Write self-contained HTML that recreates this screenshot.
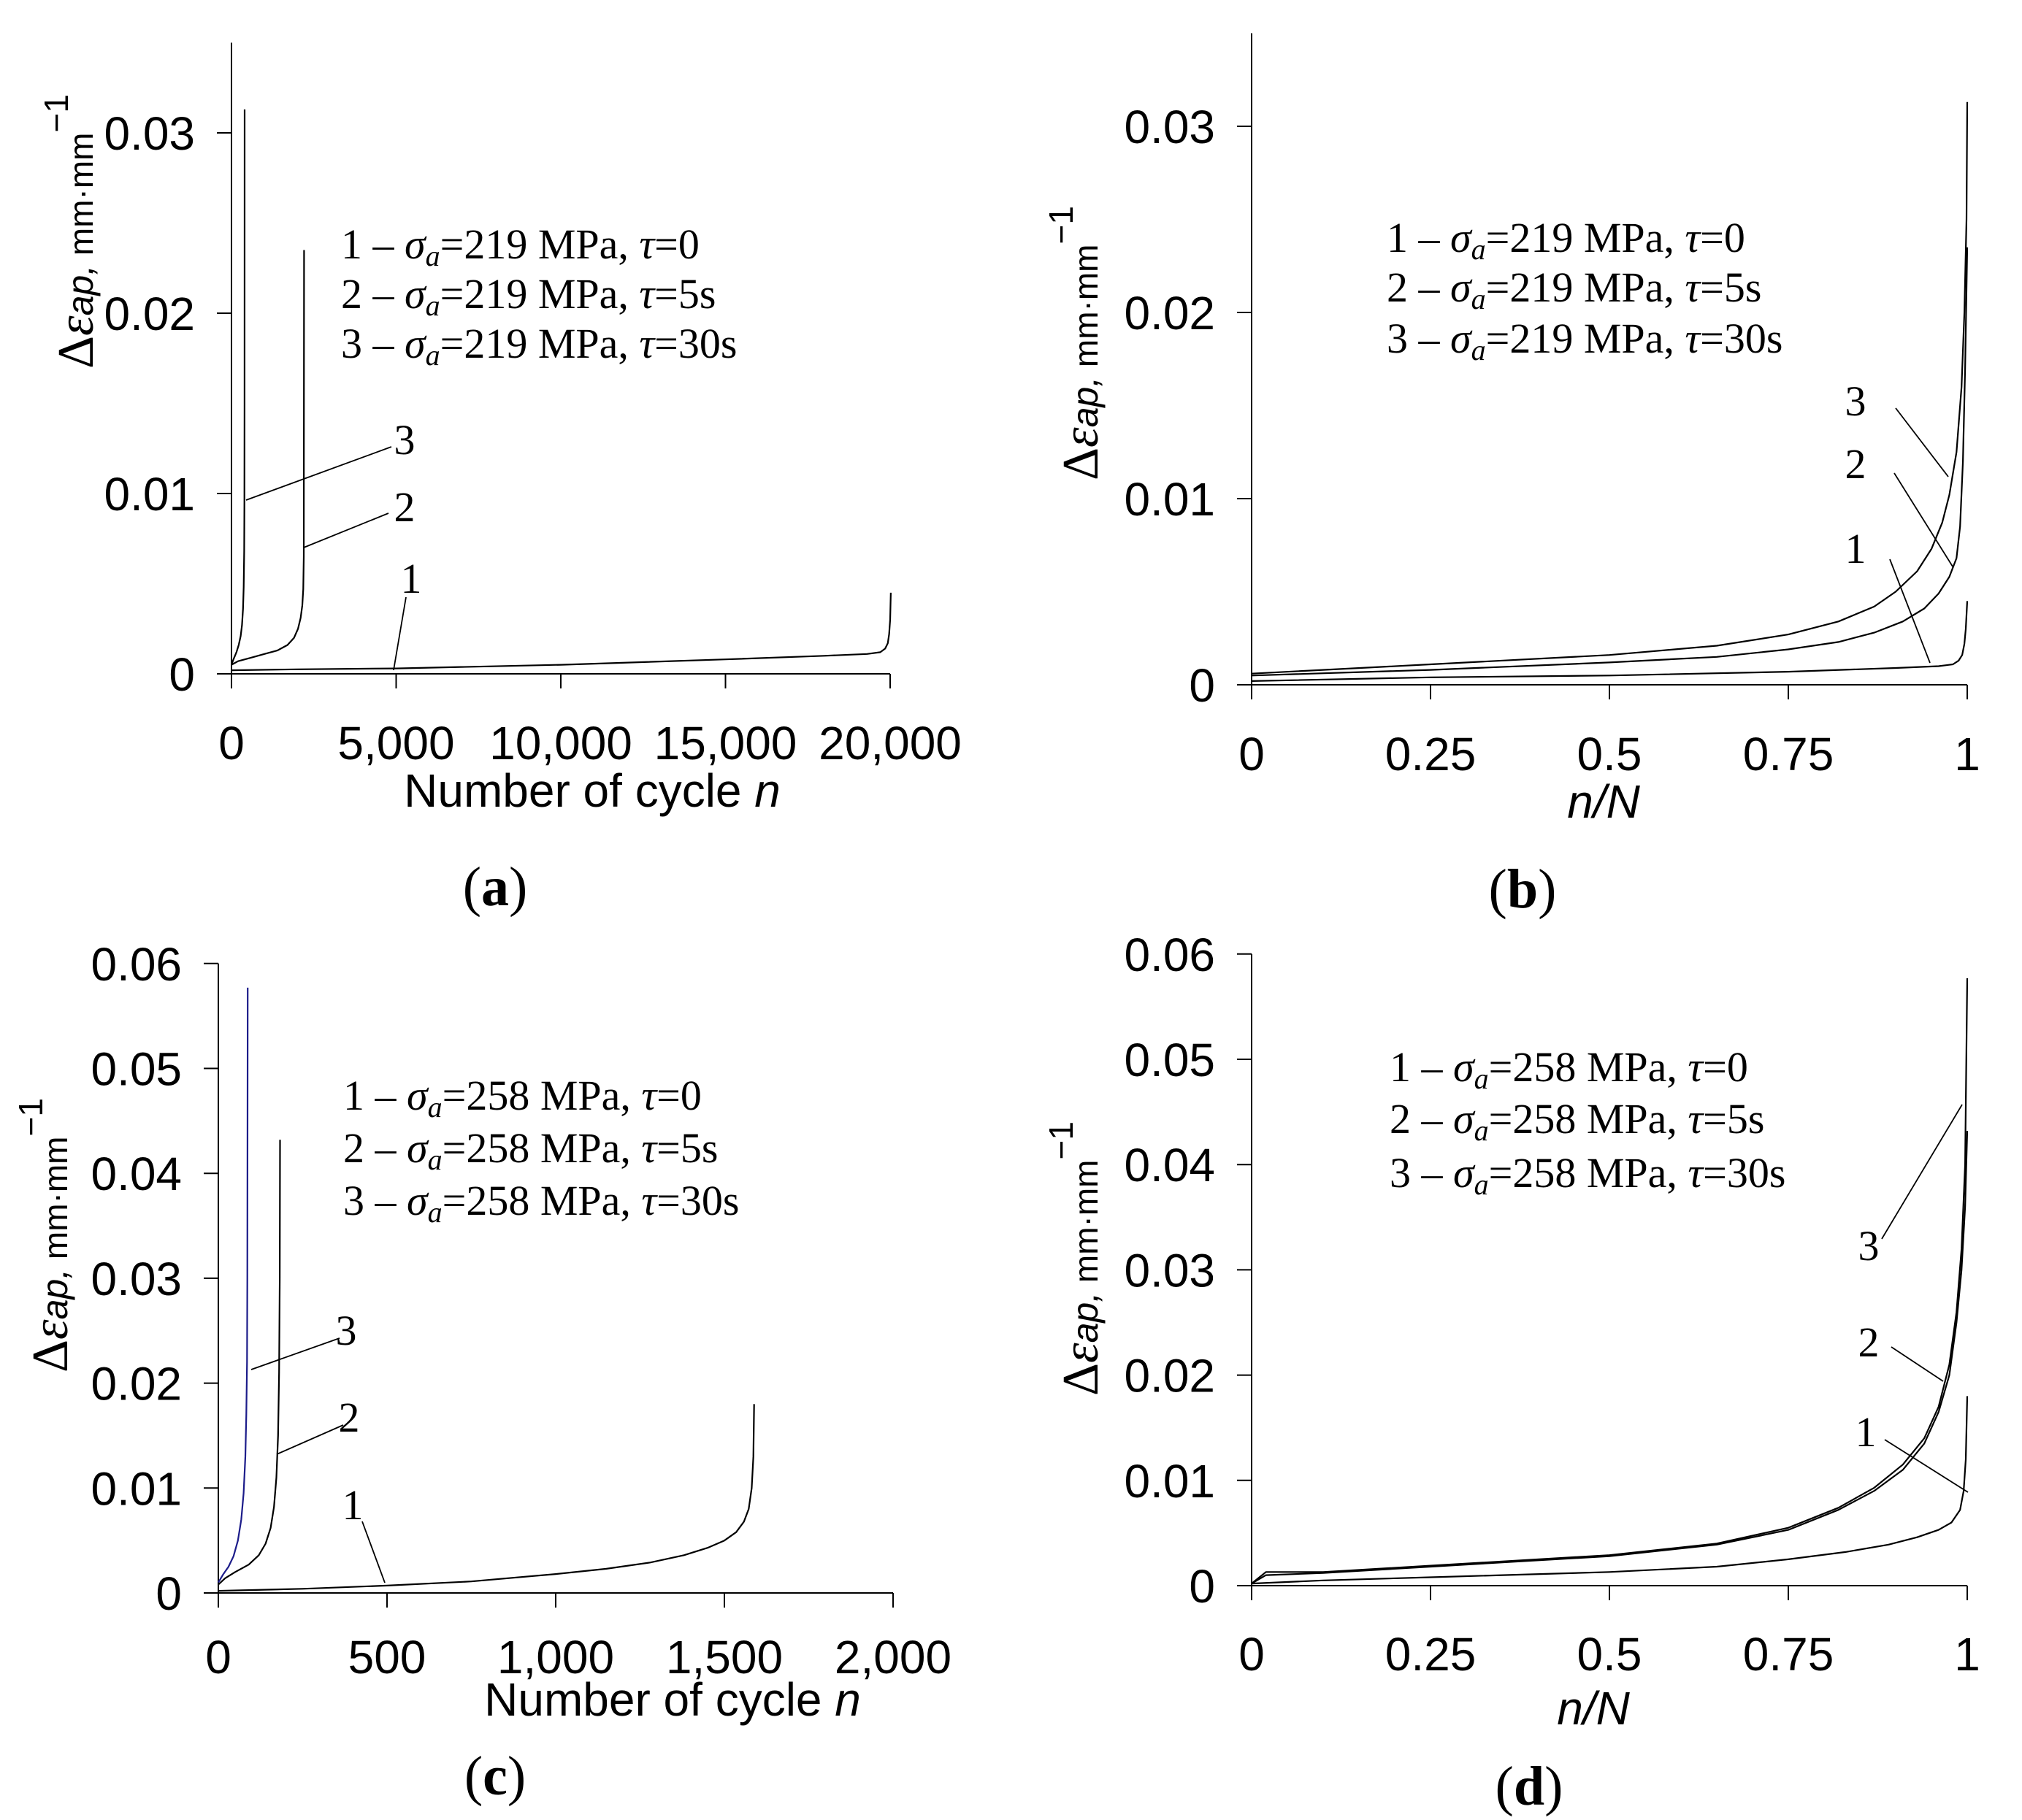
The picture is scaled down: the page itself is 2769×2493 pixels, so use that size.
<!DOCTYPE html>
<html><head><meta charset="utf-8"><style>
html,body{margin:0;padding:0;background:#fff;}
svg{display:block;}
.tk{font-family:"Liberation Sans",sans-serif;font-size:64px;fill:#000;}
.lg{font-family:"Liberation Serif",serif;font-size:58px;fill:#000;}
.cap{font-family:"Liberation Serif",serif;font-size:76px;font-weight:bold;fill:#000;}
</style></head><body>
<svg id="fig" width="2769" height="2493" viewBox="0 0 2769 2493" xmlns="http://www.w3.org/2000/svg"></svg>
<script>
// ---- Panel (a) data: cycles vs strain ----
const aXTicks = [0, 5000, 10000, 15000, 20000];
const aXTickLabels = ["0", "5,000", "10,000", "15,000", "20,000"];
const aYTicks = [0, 0.01, 0.02, 0.03];
const aYTickLabels = ["0", "0.01", "0.02", "0.03"];
const aS1x = [0, 2000, 5000, 10000, 15000, 18000, 19300, 19700, 19850, 19930, 19970, 20000, 20020];
const aS1y = [0.0002, 0.00025, 0.0003, 0.0005, 0.0008, 0.001, 0.0011, 0.0012, 0.0014, 0.0017, 0.0022, 0.003, 0.0045];
const aS2x = [0, 200, 600, 1000, 1400, 1700, 1900, 2020, 2100, 2150, 2180, 2195, 2200, 2205];
const aS2y = [0.0005, 0.0007, 0.0009, 0.0011, 0.0013, 0.0016, 0.002, 0.0025, 0.0031, 0.0038, 0.0047, 0.0065, 0.015, 0.0235];
const aS3x = [0, 60, 150, 220, 280, 320, 350, 370, 385, 392, 397, 400];
const aS3y = [0.0005, 0.0008, 0.0012, 0.0016, 0.0021, 0.0027, 0.0036, 0.0048, 0.0068, 0.0095, 0.015, 0.0313];

// ---- Panel (b) data: n/N vs strain ----
const bXTicks = [0, 0.25, 0.5, 0.75, 1];
const bXTickLabels = ["0", "0.25", "0.5", "0.75", "1"];
const bYTicks = [0, 0.01, 0.02, 0.03];
const bYTickLabels = ["0", "0.01", "0.02", "0.03"];
const bS1x = [0, 0.25, 0.5, 0.75, 0.9, 0.96, 0.98, 0.988, 0.993, 0.996, 0.998, 1];
const bS1y = [0.0002, 0.0004, 0.0005, 0.0007, 0.0009, 0.001, 0.0011, 0.0013, 0.0016, 0.0022, 0.003, 0.0045];
const bS2x = [0, 0.25, 0.5, 0.65, 0.75, 0.82, 0.87, 0.91, 0.94, 0.96, 0.975, 0.985, 0.99, 0.994, 0.997, 1];
const bS2y = [0.0005, 0.0008, 0.0012, 0.0015, 0.0019, 0.0023, 0.0028, 0.0034, 0.0041, 0.0049, 0.0058, 0.0068, 0.0085, 0.012, 0.017, 0.0235];
const bS3x = [0, 0.25, 0.5, 0.65, 0.75, 0.82, 0.87, 0.9, 0.93, 0.95, 0.965, 0.975, 0.985, 0.992, 0.996, 0.999, 1];
const bS3y = [0.0006, 0.0011, 0.0016, 0.0021, 0.0027, 0.0034, 0.0042, 0.005, 0.0061, 0.0073, 0.0087, 0.0102, 0.0125, 0.016, 0.02, 0.025, 0.0313];

// ---- Panel (c) data: cycles vs strain ----
const cXTicks = [0, 500, 1000, 1500, 2000];
const cXTickLabels = ["0", "500", "1,000", "1,500", "2,000"];
const cYTicks = [0, 0.01, 0.02, 0.03, 0.04, 0.05, 0.06];
const cYTickLabels = ["0", "0.01", "0.02", "0.03", "0.04", "0.05", "0.06"];
const cS1x = [0, 250, 500, 750, 1000, 1150, 1280, 1380, 1450, 1500, 1535, 1558, 1572, 1581, 1586, 1588];
const cS1y = [0.0002, 0.0004, 0.0007, 0.0011, 0.0018, 0.0023, 0.0029, 0.0036, 0.0043, 0.005, 0.0058, 0.0068, 0.008, 0.01, 0.013, 0.018];
const cS2x = [0, 20, 50, 90, 120, 140, 155, 165, 172, 177, 180, 182, 183];
const cS2y = [0.0008, 0.0014, 0.002, 0.0027, 0.0036, 0.0047, 0.0062, 0.0082, 0.011, 0.015, 0.021, 0.03, 0.0432];
const cS3x = [0, 15, 30, 45, 58, 68, 75, 80, 83, 85, 86, 87];
const cS3y = [0.001, 0.0018, 0.0025, 0.0035, 0.005, 0.007, 0.0095, 0.013, 0.017, 0.022, 0.03, 0.0577];

// ---- Panel (d) data: n/N vs strain ----
const dXTicks = [0, 0.25, 0.5, 0.75, 1];
const dXTickLabels = ["0", "0.25", "0.5", "0.75", "1"];
const dYTicks = [0, 0.01, 0.02, 0.03, 0.04, 0.05, 0.06];
const dYTickLabels = ["0", "0.01", "0.02", "0.03", "0.04", "0.05", "0.06"];
const dS1x = [0, 0.1, 0.25, 0.5, 0.65, 0.75, 0.83, 0.89, 0.93, 0.96, 0.978, 0.99, 0.995, 0.998, 1];
const dS1y = [0.0002, 0.0005, 0.0008, 0.0013, 0.0018, 0.0025, 0.0032, 0.0039, 0.0046, 0.0053, 0.006, 0.0072, 0.009, 0.012, 0.018];
const dS2x = [0, 0.02, 0.1, 0.25, 0.5, 0.65, 0.75, 0.82, 0.87, 0.91, 0.94, 0.96, 0.975, 0.985, 0.992, 0.997, 1];
const dS2y = [0.0002, 0.001, 0.0012, 0.0018, 0.0028, 0.0039, 0.0053, 0.0072, 0.009, 0.011, 0.0135, 0.0165, 0.02, 0.025, 0.03, 0.036, 0.0432];
const dS3x = [0, 0.02, 0.1, 0.25, 0.5, 0.65, 0.75, 0.82, 0.87, 0.91, 0.94, 0.96, 0.975, 0.985, 0.992, 0.997, 1];
const dS3y = [0.0002, 0.0013, 0.0013, 0.0019, 0.0029, 0.004, 0.0055, 0.0074, 0.0093, 0.0115, 0.014, 0.017, 0.021, 0.026, 0.032, 0.04, 0.0577];

const NS = "http://www.w3.org/2000/svg";
const svg = document.getElementById('fig');
function mk(tag, attrs, parent) {
  const e = document.createElementNS(NS, tag);
  for (const k in attrs) e.setAttribute(k, attrs[k]);
  (parent || svg).appendChild(e);
  return e;
}

const panels = [
  {id:'a', x0:317, x1:1219, xmax:20000, y0:923, ymax:0.035, yPer:24700, xt:aXTicks, xl:aXTickLabels, yt:aYTicks, yl:aYTickLabels,
   series:[[aS1x,aS1y,'#000'],[aS2x,aS2y,'#000'],[aS3x,aS3y,'#000']],
   tickLabelY:1040, xTitle:'cycle', xTitleX:811, xTitleY:1105, cap:'a', capX:678, capY:1240,
   yTitleX:127, yTitleY:505, legX:467, legY:[354,422,490], sig:'219',
   labels:[['3',554,622],['2',554,714],['1',563,812]],
   leaders:[[536,612,337,685],[532,703,416,750],[556,818,539,918]]},
  {id:'b', x0:1714, x1:2694, xmax:1, y0:938, ymax:0.035, yPer:25500, xt:bXTicks, xl:bXTickLabels, yt:bYTicks, yl:bYTickLabels,
   series:[[bS1x,bS1y,'#000'],[bS2x,bS2y,'#000'],[bS3x,bS3y,'#000']],
   tickLabelY:1055, xTitle:'nN', xTitleX:2196, xTitleY:1120, cap:'b', capX:2085, capY:1243,
   yTitleX:1503, yTitleY:658, legX:1899, legY:[345,413,483], sig:'219',
   labels:[['3',2541,569],['2',2541,655],['1',2541,771]],
   leaders:[[2596,559,2668,653],[2594,648,2674,776],[2588,766,2643,908]]},
  {id:'c', x0:299, x1:1223, xmax:2000, y0:2182, ymax:0.06, yPer:14370, xt:cXTicks, xl:cXTickLabels, yt:cYTicks, yl:cYTickLabels,
   series:[[cS1x,cS1y,'#000'],[cS2x,cS2y,'#000'],[cS3x,cS3y,'#1c1c8a']],
   tickLabelY:2292, xTitle:'cycle', xTitleX:921, xTitleY:2350, cap:'c', capX:678, capY:2458,
   yTitleX:92, yTitleY:1880, legX:470, legY:[1520,1592,1664], sig:'258',
   labels:[['3',474,1842],['2',478,1961],['1',483,2081]],
   leaders:[[465,1833,344,1876],[470,1952,379,1992],[496,2084,527,2168]]},
  {id:'d', x0:1714, x1:2694, xmax:1, y0:2172, ymax:0.06, yPer:14420, xt:dXTicks, xl:dXTickLabels, yt:dYTicks, yl:dYTickLabels,
   series:[[dS1x,dS1y,'#000'],[dS2x,dS2y,'#000'],[dS3x,dS3y,'#000']],
   tickLabelY:2288, xTitle:'nN', xTitleX:2182, xTitleY:2362, cap:'d', capX:2094, capY:2472,
   yTitleX:1503, yTitleY:1912, legX:1903, legY:[1481,1552,1626], sig:'258',
   labels:[['3',2559,1726],['2',2559,1858],['1',2555,1981]],
   leaders:[[2577,1697,2687,1513],[2590,1845,2661,1892],[2581,1972,2695,2044]]}
];

panels.forEach(p => {
  const g = mk('g', {});
  
  
  const sx = v => p.x0 + (v / p.xmax) * (p.x1 - p.x0);
  const sy = v => p.y0 - v * p.yPer;
  const ya = mk('line', {x1:p.x0, y1:sy(p.ymax), x2:p.x0, y2:p.y0+20, stroke:'#000','stroke-width':2}, g);
  
  
  const xa = mk('line', {x1:p.x0, y1:p.y0, x2:p.x1, y2:p.y0, stroke:'#000','stroke-width':2}, g);
  
  
  p.xt.forEach((v, i) => {
    mk('line', {x1:sx(v), y1:p.y0, x2:sx(v), y2:p.y0+20, stroke:'#000','stroke-width':2}, g);
    const t = mk('text', {x:sx(v), y:p.tickLabelY, 'text-anchor':'middle', class:'tk'}, g);
    t.textContent = p.xl[i];
    
    
  });
  p.yt.forEach((v, i) => {
    mk('line', {x1:p.x0-20, y1:sy(v), x2:p.x0, y2:sy(v), stroke:'#000','stroke-width':2}, g);
    const t = mk('text', {x:p.x0-50, y:sy(v)+23, 'text-anchor':'end', class:'tk'}, g);
    t.textContent = p.yl[i];
    
    
  });
  p.series.forEach((s, k) => {
    const pts = s[0].map((x, i) => sx(x).toFixed(1) + ',' + sy(s[1][i]).toFixed(1)).join(' ');
    const pl = mk('polyline', {points:pts, fill:'none', stroke:s[2], 'stroke-width':2.2, 'stroke-linejoin':'round'}, g);
    
    
  });
  p.leaders.forEach(l => {
    const ln = mk('line', {x1:l[0], y1:l[1], x2:l[2], y2:l[3], stroke:'#000','stroke-width':1.8}, g);
    
    
  });
  p.labels.forEach(l => {
    const t = mk('text', {x:l[1], y:l[2], 'text-anchor':'middle', class:'lg'}, g);
    t.textContent = l[0];
    
    
  });
  const taus = ['0', '5s', '30s'];
  p.legY.forEach((yy, i) => {
    const t = mk('text', {x:p.legX, y:yy, class:'lg'}, g);
    
    
    t.innerHTML = (i + 1) + ' \u2013 <tspan font-style="italic">\u03C3</tspan><tspan font-style="italic" font-size="40" dy="10">a</tspan><tspan dy="-10">=' + p.sig + ' MPa, </tspan><tspan font-style="italic">\u03C4</tspan>=' + taus[i];
  });
  const xt = mk('text', {x:p.xTitleX, y:p.xTitleY, 'text-anchor':'middle', class:'tk'}, g);
  
  
  xt.innerHTML = p.xTitle === 'cycle' ? 'Number of cycle <tspan font-style="italic">n</tspan>' : '<tspan font-style="italic">n/N</tspan>';
  const yt = mk('text', {transform:'translate(' + p.yTitleX + ',' + p.yTitleY + ') rotate(-90)'}, g);
  
  
  yt.innerHTML = '<tspan font-family="Liberation Serif, serif" font-size="70">\u0394</tspan><tspan font-family="Liberation Serif, serif" font-style="italic" font-size="70">\u03B5</tspan><tspan font-family="Liberation Sans, sans-serif" font-style="italic" font-size="50">ap,</tspan><tspan font-family="Liberation Sans, sans-serif" font-size="46"> mm\u00B7mm</tspan><tspan font-family="Liberation Sans, sans-serif" font-size="46" dy="-34">\u22121</tspan>';
  const cp = mk('text', {x:p.capX, y:p.capY, 'text-anchor':'middle', class:'cap'}, g);
  
  
  cp.innerHTML = '<tspan font-weight="normal">(</tspan>' + p.cap + '<tspan font-weight="normal">)</tspan>';
});
</script>
</body></html>
